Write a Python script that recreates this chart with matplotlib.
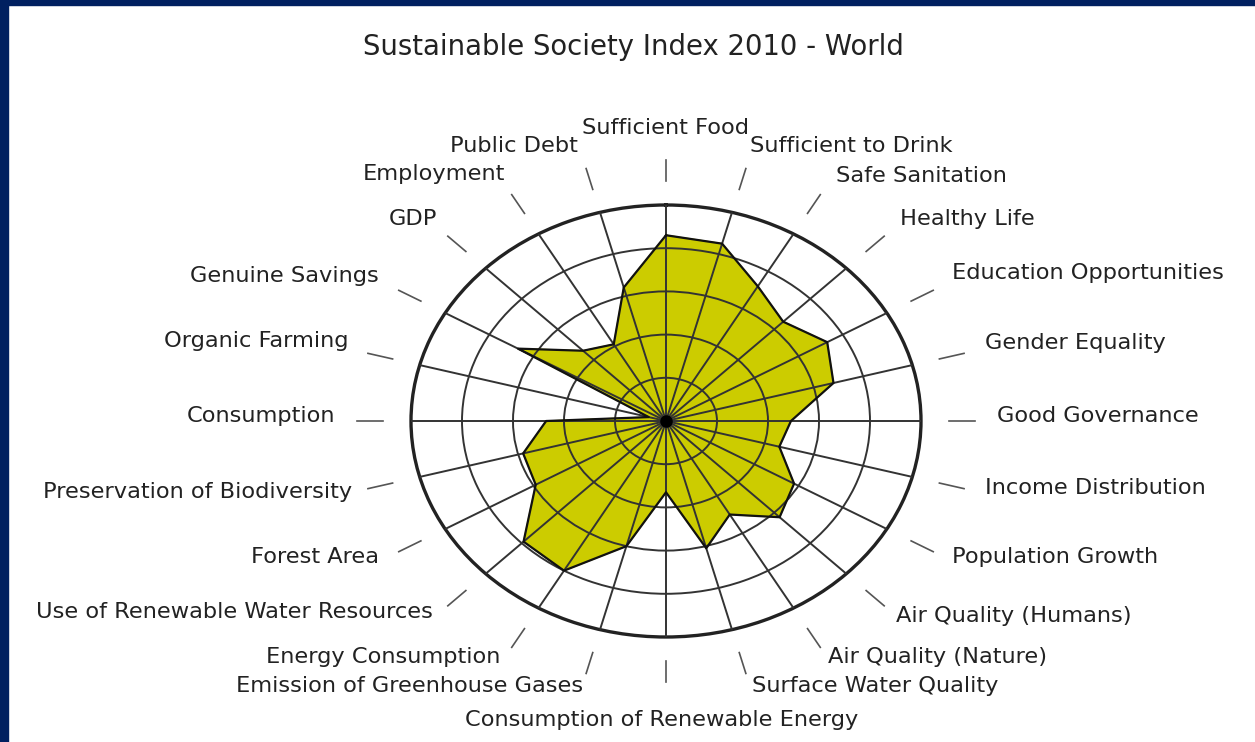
import numpy as np
import matplotlib
matplotlib.use("Agg")
import matplotlib.pyplot as plt

W, H = 1255, 742

categories = [
    "Sufficient Food", "Sufficient to Drink", "Safe Sanitation", "Healthy Life",
    "Education Opportunities", "Gender Equality", "Good Governance",
    "Income Distribution", "Population Growth", "Air Quality (Humans)",
    "Air Quality (Nature)", "Surface Water Quality",
    "Consumption of Renewable Energy", "Emission of Greenhouse Gases",
    "Energy Consumption", "Use of Renewable Water Resources", "Forest Area",
    "Preservation of Biodiversity", "Consumption", "Organic Farming",
    "Genuine Savings", "GDP", "Employment", "Public Debt",
]
values = [8.6, 8.5, 7.2, 6.5, 7.3, 6.8, 4.9, 4.6, 5.8, 6.3, 5.0, 6.1,
          3.3, 6.0, 8.0, 7.9, 5.9, 5.8, 4.7, 0.7, 6.7, 4.6, 4.1, 6.4]
ring_levels = [2, 4, 6, 8, 10]
title = "Sustainable Society Index 2010 - World"

# label layout (pixel x, pixel y, horizontal alignment)
label_layout = [
    (665, 128, "center"), (750, 146, "left"), (836, 176, "left"),
    (900, 219, "left"), (952, 273, "left"), (985, 343, "left"),
    (997, 416, "left"), (985, 488, "left"), (952, 557, "left"),
    (896, 616, "left"), (828, 657, "left"), (752, 686, "left"),
    (662, 720, "center"), (583, 686, "right"), (500, 657, "right"),
    (433, 612, "right"), (379, 557, "right"), (352, 492, "right"),
    (335, 416, "right"), (349, 341, "right"), (379, 276, "right"),
    (437, 219, "right"), (505, 174, "right"), (578, 146, "right"),
]

FONT = ["DejaVu Sans"]
TXT = "#222222"
FILL = "#CCCC00"
NAVY = "#002060"

fig = plt.figure(figsize=(W / 100, H / 100), dpi=100)
fig.patch.set_facecolor("white")

# navy frame (top and left)
fig.patches.append(plt.Rectangle((0, 1 - 5 / H), 1, 5 / H, transform=fig.transFigure,
                                 color=NAVY, zorder=0))
fig.patches.append(plt.Rectangle((0, 0), 8 / W, 1, transform=fig.transFigure,
                                 color=NAVY, zorder=0))

cx, cy, rx, ry = 666, 421, 255, 216
ax = fig.add_axes([(cx - rx) / W, (H - cy - ry) / H, 2 * rx / W, 2 * ry / H],
                  projection="polar")
ax.set_aspect("auto")
ax.set_theta_zero_location("N")
ax.set_theta_direction(-1)
ax.set_ylim(0, 10)

n = len(categories)
angles = np.deg2rad(np.arange(n) * 360.0 / n)
ax.set_xticks(angles)
ax.set_xticklabels([])
ax.set_yticks(ring_levels[:-1])
ax.set_yticklabels([])
ax.tick_params(length=0)
ax.grid(True, color="#333333", linewidth=1.4)
ax.set_axisbelow(False)
ax.spines["polar"].set_color("#222222")
ax.spines["polar"].set_linewidth(2.4)

closed_a = np.append(angles, angles[0])
closed_v = np.append(values, values[0])
ax.fill(closed_a, closed_v, color=FILL, zorder=1)
ax.plot(closed_a, closed_v, color="#111111", linewidth=1.6, zorder=3)
ax.plot([0], [0], marker="o", markersize=8, color="black", zorder=4)

# short tick marks outside the ellipse
for a in angles:
    ax.plot([a, a], [11.1, 12.1], color="#555555", linewidth=1.2,
            clip_on=False, zorder=3)

for lab, (x, y, ha) in zip(categories, label_layout):
    fig.text(x / W, 1 - y / H, lab, ha=ha, va="center", fontsize=16.2,
             family=FONT, color=TXT)

fig.text(633 / W, 1 - 47 / H, title, ha="center", va="center", fontsize=19.8,
         family=FONT, color=TXT)

fig.savefig("out.png", dpi=100, facecolor="white")
